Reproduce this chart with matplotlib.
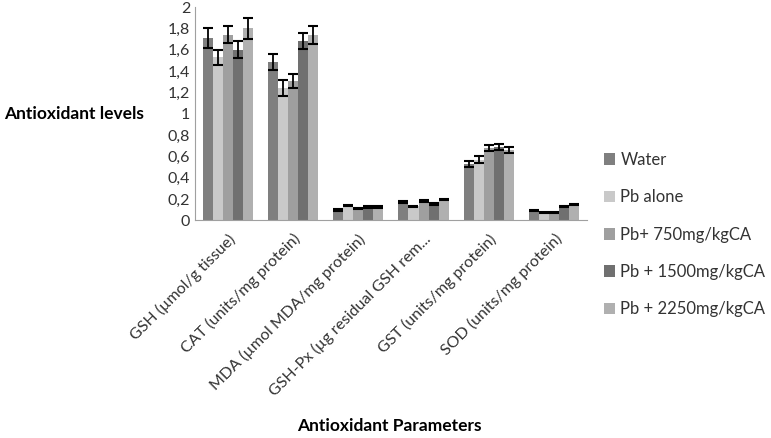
import numpy as np
import matplotlib.pyplot as plt

plt.rcParams['font.family'] = ['Lato', 'DejaVu Sans']

params = ['GSH (µmol/g tissue)', 'CAT (units/mg protein)', 'MDA (µmol MDA/mg protein)',
          'GSH-Px (µg residual GSH rem...', 'GST (units/mg protein)', 'SOD (units/mg protein)']
groups = ['Water', 'Pb alone', 'Pb+ 750mg/kgCA', 'Pb + 1500mg/kgCA', 'Pb + 2250mg/kgCA']
colors = ['#7f7f7f', '#c9c9c9', '#9f9f9f', '#707070', '#b0b0b0']

water = [1.71, 1.48, 0.10, 0.17, 0.53, 0.09]
pb_alone = [1.53, 1.24, 0.14, 0.13, 0.57, 0.075]
ca750 = [1.74, 1.31, 0.11, 0.18, 0.68, 0.075]
ca1500 = [1.60, 1.68, 0.125, 0.155, 0.69, 0.13]
ca2250 = [1.80, 1.74, 0.125, 0.195, 0.66, 0.145]

err_water = [0.09, 0.075, 0.008, 0.008, 0.03, 0.006]
err_pb = [0.07, 0.075, 0.008, 0.008, 0.03, 0.006]
err_750 = [0.08, 0.065, 0.008, 0.008, 0.03, 0.006]
err_1500 = [0.08, 0.075, 0.008, 0.008, 0.03, 0.006]
err_2250 = [0.10, 0.085, 0.008, 0.008, 0.03, 0.006]

values = [water, pb_alone, ca750, ca1500, ca2250]
errors = [err_water, err_pb, err_750, err_1500, err_2250]

fig = plt.figure(figsize=(7.71, 4.38), dpi=100)
ax = fig.add_axes([0.253, 0.497, 0.508, 0.487])

x = np.arange(len(params))
w = 0.154
for i in range(5):
    ax.bar(x + (i - 2) * w, values[i], w, color=colors[i], label=groups[i],
           yerr=errors[i], capsize=3.5, error_kw=dict(elinewidth=1.3, capthick=1.5, ecolor='black'))

ax.set_ylim(0, 2)
ax.set_xlim(-0.5, 5.5)
ax.set_yticks(np.arange(0, 2.01, 0.2))
ax.set_yticklabels([('%.1f' % v).replace('.', ',').replace(',0', '') for v in np.arange(0, 2.01, 0.2)])
ax.set_xticks(x)
ax.set_xticklabels(params, rotation=45, ha='right', rotation_mode='anchor')
ax.tick_params(axis='both', length=0, labelsize=11.5, colors='#333333')
ax.tick_params(axis='x', pad=8)
for s in ['top', 'right']:
    ax.spines[s].set_visible(False)
for s in ['left', 'bottom']:
    ax.spines[s].set_color('#a0a0a0')

fig.text(0.005, 0.74, 'Antioxidant levels', fontsize=12.5, fontweight='bold', va='center')
fig.text(0.505, 0.017, 'Antioxidant Parameters', fontsize=12.5, fontweight='bold', ha='center')

ax.legend(loc='center left', bbox_to_anchor=(1.005, -0.068), frameon=False, fontsize=12,
          handlelength=0.7, handleheight=0.7, handletextpad=0.3, labelspacing=1.28,
          labelcolor='#333333')

fig.savefig('out.png', dpi=100)
